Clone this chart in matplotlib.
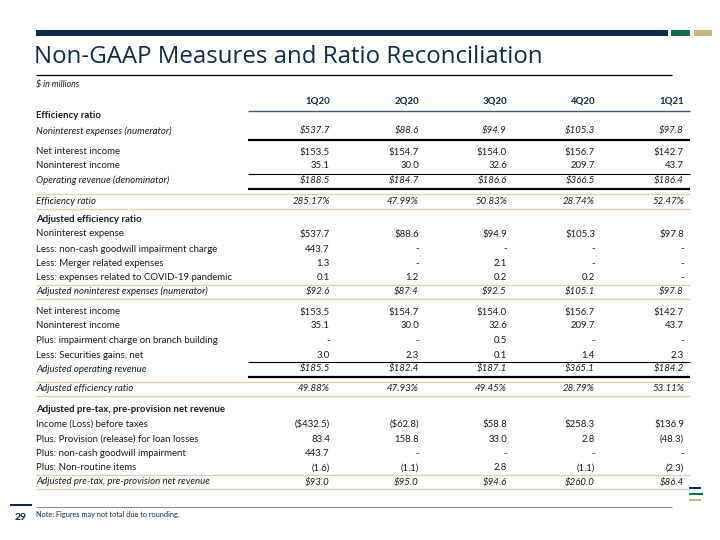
import matplotlib
matplotlib.use("Agg")
import matplotlib.pyplot as plt

# ---------------- data ----------------
quarters = ["1Q20", "2Q20", "3Q20", "4Q20", "1Q21"]

noninterest_expenses_num = [537.7, 88.6, 94.9, 105.3, 97.8]
net_interest_income = [153.5, 154.7, 154.0, 156.7, 142.7]
noninterest_income = [35.1, 30.0, 32.6, 209.7, 43.7]
operating_revenue = [188.5, 184.7, 186.6, 366.5, 186.4]
efficiency_ratio = [285.17, 47.99, 50.83, 28.74, 52.47]

noninterest_expense = [537.7, 88.6, 94.9, 105.3, 97.8]
goodwill_impairment_charge = [443.7, None, None, None, None]
merger_expenses = [1.3, None, 2.1, None, None]
covid_expenses = [0.1, 1.2, 0.2, 0.2, None]
adj_noninterest_expenses = [92.6, 87.4, 92.5, 105.1, 97.8]
branch_impairment = [None, None, 0.5, None, None]
securities_gains = [3.0, 2.3, 0.1, 1.4, 2.3]
adj_operating_revenue = [185.5, 182.4, 187.1, 365.1, 184.2]
adj_efficiency_ratio = [49.88, 47.93, 49.45, 28.79, 53.11]

income_before_taxes = [-432.5, -62.8, 58.8, 258.3, 136.9]
provision = [83.4, 158.8, 33.0, 2.8, -48.3]
goodwill_impairment = [443.7, None, None, None, None]
nonroutine_items = [-1.6, -1.1, 2.8, -1.1, -2.3]
adj_pptnr = [93.0, 95.0, 94.6, 260.0, 86.4]

title = "Non-GAAP Measures and Ratio Reconciliation"
subtitle = "$ in millions"
note = "Note: Figures may not total due to rounding."
page_number = "29"

# ---------------- style ----------------
NAVY = "#0d2b4b"
GREEN = "#0e6b4f"
TAN = "#c9b77c"
TAN_LINE = "#ddd3b0"
TEXT = "#1a1a1a"
FONT = "Lato"

plt.rcParams["font.family"] = [FONT, "DejaVu Sans"]

fig = plt.figure(figsize=(7.2, 5.4), dpi=100)
ax = fig.add_axes([0, 0, 1, 1])
ax.set_xlim(0, 720)
ax.set_ylim(540, 0)
ax.axis("off")


def fmt(v, dollar=False, pct=False):
    if v is None:
        return "-"
    if pct:
        return f"{v:.2f}%"
    s = f"{abs(v):.1f}"
    if dollar:
        s = "$" + s
    if v < 0:
        s = "(" + s + ")"
    return s


def hline(y, x0, x1, color, lw):
    ax.plot([x0, x1], [y, y], color=color, lw=lw, solid_capstyle="butt")


# header decoration
ax.add_patch(plt.Rectangle((36, 30), 632, 6, color=NAVY, lw=0))
ax.add_patch(plt.Rectangle((671, 30), 19, 6, color=GREEN, lw=0))
ax.add_patch(plt.Rectangle((694, 30), 18, 6, color=TAN, lw=0))
ax.text(34, 57, title, fontsize=17.3, color=NAVY, va="center", ha="left",
        family=["Open Sans", "DejaVu Sans"])
hline(75, 36, 672, "black", 0.9)
ax.text(36, 85, subtitle, fontsize=6.3, style="italic", color=TEXT, va="center")

# table
col_x = [330, 419, 507, 595, 684]
label_x = 36
FS = 6.9

for x, q in zip(col_x, quarters):
    ax.text(x, 101, q, fontsize=FS, fontweight="bold", color=NAVY, ha="right", va="center")
hline(111, 248, 690, "#3d5a78", 1.0)


def row(y, label, values=None, dollar=False, pct=False, bold=False, italic=False):
    ax.text(label_x, y, label, fontsize=FS, color=TEXT, va="center", ha="left",
            fontweight="bold" if bold else "normal",
            style="italic" if italic else "normal")
    if values is not None:
        for x, v in zip(col_x, values):
            ax.text(x, y, fmt(v, dollar, pct), fontsize=FS, color=TEXT,
                    va="center", ha="right", style="italic" if italic else "normal")


row(116, "Efficiency ratio", bold=True)
row(131, "Noninterest expenses (numerator)", noninterest_expenses_num, dollar=True, italic=True)
hline(139.5, 248, 690, "black", 1.6)
row(152, "Net interest income", net_interest_income, dollar=True)
row(166, "Noninterest income", noninterest_income)
hline(173.5, 248, 690, "black", 0.8)
row(180, "Operating revenue (denominator)", operating_revenue, dollar=True, italic=True)
hline(188.5, 248, 690, "black", 1.6)
hline(194, 36, 690, TAN_LINE, 1.0)
row(202, "Efficiency ratio", efficiency_ratio, pct=True, italic=True)
hline(209, 36, 690, TAN_LINE, 1.0)

row(219, "Adjusted efficiency ratio", bold=True)
row(234, "Noninterest expense", noninterest_expense, dollar=True)
row(249, "Less: non-cash goodwill impairment charge", goodwill_impairment_charge)
row(263.5, "Less: Merger related expenses", merger_expenses)
row(277.5, "Less: expenses related to COVID-19 pandemic", covid_expenses)
hline(284.5, 36, 690, TAN_LINE, 1.0)
row(291.5, "Adjusted noninterest expenses (numerator)", adj_noninterest_expenses, dollar=True, italic=True)
hline(299, 36, 690, TAN_LINE, 1.0)
row(312, "Net interest income", net_interest_income, dollar=True)
row(326, "Noninterest income", noninterest_income)
row(340.5, "Plus: impairment charge on branch building", branch_impairment)
row(355, "Less: Securities gains, net", securities_gains)
hline(362, 248, 690, "black", 0.8)
row(369, "Adjusted operating revenue", adj_operating_revenue, dollar=True, italic=True)
hline(376.5, 248, 690, "black", 1.6)
hline(381.5, 36, 690, TAN_LINE, 1.0)
row(388.5, "Adjusted efficiency ratio", adj_efficiency_ratio, pct=True, italic=True)
hline(396, 36, 690, TAN_LINE, 1.0)

row(409, "Adjusted pre-tax, pre-provision net revenue", bold=True)
row(424, "Income (Loss) before taxes", income_before_taxes, dollar=True)
row(439, "Plus: Provision (release) for loan losses", provision)
row(454, "Plus: non-cash goodwill impairment", goodwill_impairment)
row(468, "Plus: Non-routine items", nonroutine_items)
hline(475, 36, 690, TAN_LINE, 1.0)
row(482, "Adjusted pre-tax, pre-provision net revenue", adj_pptnr, dollar=True, italic=True)
hline(489, 36, 690, TAN_LINE, 1.0)

# footer
hline(507, 36, 672, "#8c8c8c", 0.8)
ax.add_patch(plt.Rectangle((10, 503.5), 22, 2, color=NAVY, lw=0))
ax.text(21, 517, page_number, fontsize=7.5, fontweight="bold", color=NAVY, ha="center", va="center")
ax.text(36, 514, note, fontsize=5.3, color=NAVY, ha="left", va="center")
ax.add_patch(plt.Rectangle((689, 486.5), 12, 2.2, color=NAVY, lw=0))
ax.add_patch(plt.Rectangle((689, 492.5), 14, 2.2, color=GREEN, lw=0))
ax.add_patch(plt.Rectangle((689, 498.5), 12, 2.2, color=TAN, lw=0))

fig.savefig("out.png", dpi=100)
